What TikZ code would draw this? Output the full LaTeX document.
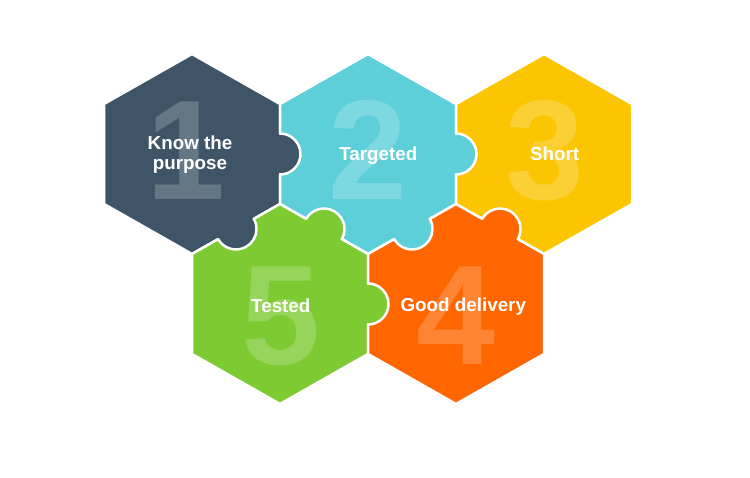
\documentclass[tikz,border=0pt]{standalone}
\usepackage{fontspec}
\setmainfont{Liberation Sans}
\definecolor{cSlate}{HTML}{3F5567}
\definecolor{cCyan}{HTML}{5DCFD9}
\definecolor{cYellow}{HTML}{FBC502}
\definecolor{cOrange}{HTML}{FF6600}
\definecolor{cGreen}{HTML}{7DCA32}
\newcommand\PuzzleHex[3]{%
  \fill[#3] (#1,#2+100) -- (#1+88,#2+50) -- (#1+88,#2-50) -- (#1,#2-100) -- (#1-88,#2-50) -- (#1-88,#2+50) -- cycle;
  \draw[hexedge] (#1,#2+100) -- (#1+88,#2+50) -- (#1+88,#2-50) -- (#1,#2-100) -- (#1-88,#2-50) -- (#1-88,#2+50) -- cycle;}
\newcommand\PuzzleKnob[4]{%
  \fill[#4] (#1,#2) circle[radius=20.5];
  \draw[hexedge] (#1,#2) ++(#3-92:20.5) arc[start angle=#3-92, end angle=#3+92, radius=20.5];}
\begin{document}
\begin{tikzpicture}[x=1pt,y=1pt,
  hexedge/.style={draw=white, line width=2.5pt, line join=miter},
  bignum/.style={text=white, text opacity=0.2, font=\bfseries\fontsize{142}{142}\selectfont, inner sep=0pt, anchor=base},
  piecetext/.style={text=white, font=\bfseries\fontsize{18.8}{20.3}\selectfont, align=center, inner sep=0pt}]
\useasboundingbox (0,0) rectangle (750,478);
\fill[white] (0,0) rectangle (750,478);
% hexagons
\PuzzleHex{192}{324}{cSlate}
\PuzzleHex{368}{324}{cCyan}
\PuzzleHex{544}{324}{cYellow}
\PuzzleHex{280}{174}{cGreen}
\PuzzleHex{456}{174}{cOrange}
% big numbers
\node[bignum] (n1) at (186,278) {1};
\node[bignum] (n2) at (368,278) {2};
\node[bignum] (n3) at (545,278) {3};
\node[bignum] (n5) at (281,113) {5};
\node[bignum] (n4) at (456,113) {4};
% knobs
\PuzzleKnob{280}{324}{0}{cSlate}
\PuzzleKnob{456}{324}{0}{cCyan}
\PuzzleKnob{368}{174}{0}{cGreen}
\PuzzleKnob{236}{249}{-60}{cSlate}
\PuzzleKnob{324}{249}{60}{cGreen}
\PuzzleKnob{412}{249}{-60}{cCyan}
\PuzzleKnob{500}{249}{60}{cOrange}
% texts
\node[piecetext] (t1) at (190,323.7) {Know the\\purpose};
\node[piecetext, anchor=base] (t2) at (378.3,317.3) {Targeted};
\node[piecetext, anchor=base] (t3) at (554.7,317.3) {Short};
\node[piecetext, anchor=base] (t5) at (280.8,165.5) {Tested};
\node[piecetext, anchor=base] (t4) at (463.3,166.3) {Good delivery};
\end{tikzpicture}
\end{document}
